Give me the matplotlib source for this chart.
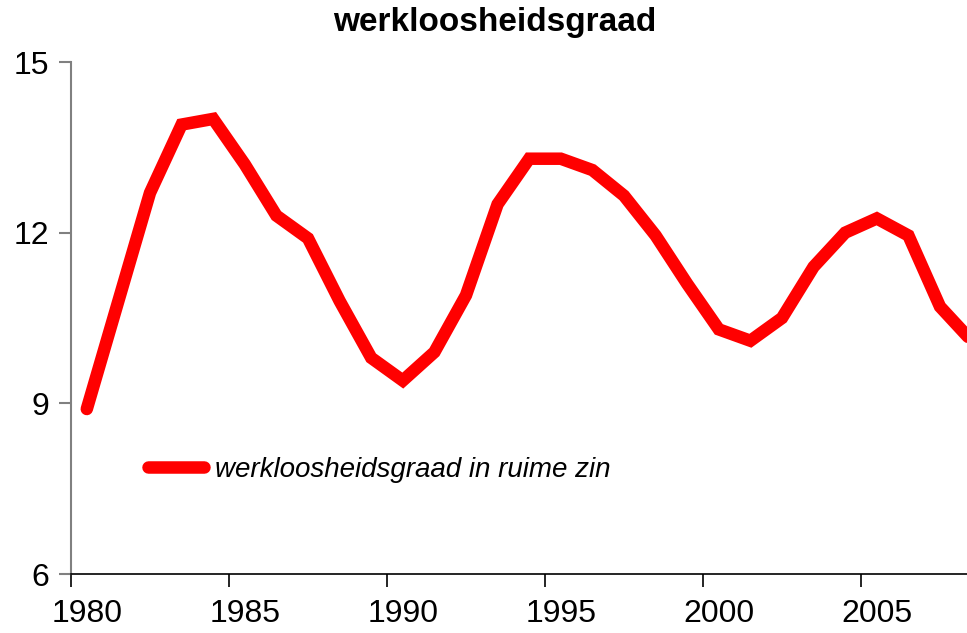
import numpy as np
import matplotlib
matplotlib.use("Agg")
import matplotlib.pyplot as plt

plt.rcParams['font.family'] = ['Liberation Sans', 'DejaVu Sans']

years = list(range(1980, 2009))
werkloosheid = [8.9, 10.8, 12.7, 13.9, 14.0, 13.2, 12.3, 11.9, 10.8, 9.8,
                9.4, 9.9, 10.9, 12.5, 13.3, 13.3, 13.1, 12.65, 11.95, 11.1,
                10.3, 10.1, 10.5, 11.4, 12.0, 12.25, 11.95, 10.7, 10.1]
label = "werkloosheidsgraad in ruime zin"
title = "werkloosheidsgraad"
tick_years = [1980, 1985, 1990, 1995, 2000, 2005]
yticks = [6, 9, 12, 15]

W, H = 967, 633
fig = plt.figure(figsize=(W / 100, H / 100), dpi=100)
px_per_year = 31.6
left, bottom, top = 71, 574, 62
ax = fig.add_axes([left / W, (H - bottom) / H, 29 * px_per_year / W, (bottom - top) / H])

# categories sit in the middle of each year slot
xs = np.array(years) + 0.5
ax.plot(xs, werkloosheid, color="#ff0000", lw=9, solid_capstyle="round",
        solid_joinstyle="miter", label=label, clip_on=False)

ax.set_xlim(1980, 2009)
ax.set_ylim(6, 15)
ax.set_yticks(yticks)
ax.set_xticks(tick_years)
ax.set_xticklabels([])
ax.set_xticks([y + 0.5 for y in tick_years], minor=True)
ax.set_xticklabels([str(y) for y in tick_years], minor=True)
ax.tick_params(axis="x", which="major", direction="out", length=9, width=1.2, color="black")
ax.tick_params(axis="x", which="minor", length=0, pad=18, labelsize=23)
ax.tick_params(axis="y", direction="out", length=9, width=1.5, color="#808080",
               pad=7, labelsize=23)

for s in ["top", "right"]:
    ax.spines[s].set_visible(False)
ax.spines["left"].set_color("#808080")
ax.spines["left"].set_linewidth(1.5)
ax.spines["bottom"].set_color("black")
ax.spines["bottom"].set_linewidth(1.2)

fig.text(0.512, 1 - 22 / H, title, ha="center", va="center", fontsize=24, fontweight="bold")

leg = ax.legend(loc="center left", bbox_to_anchor=(52 / (29 * px_per_year), (bottom - 470) / (bottom - top)),
                frameon=False, handlelength=2.0, handletextpad=0.4,
                prop={"style": "italic", "size": 20})

fig.savefig("out.png", dpi=100)
